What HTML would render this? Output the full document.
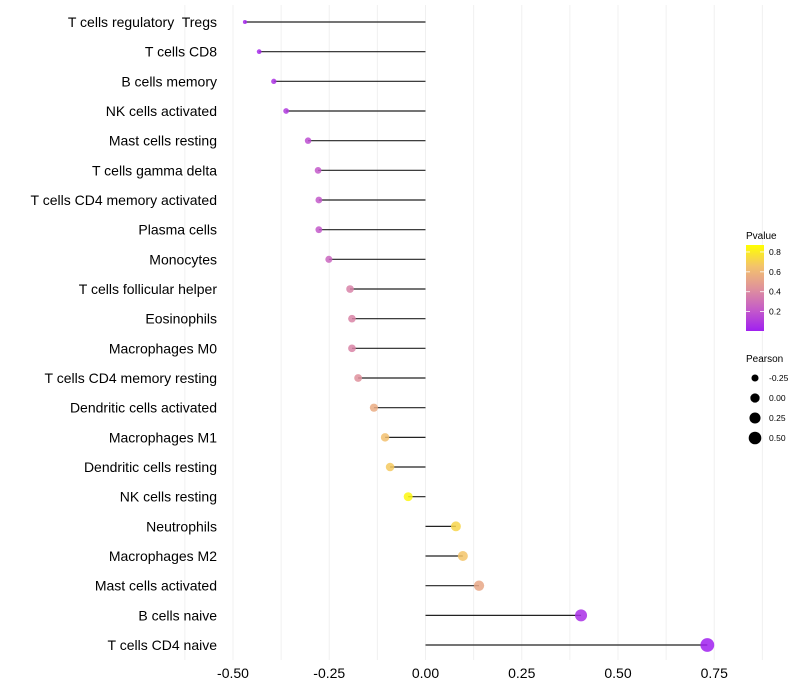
<!DOCTYPE html>
<html><head><meta charset="utf-8"><style>
body{margin:0;background:#fff;}
svg{display:block;font-family:"Liberation Sans",sans-serif;}
text{white-space:pre;}
</style></head><body>
<svg id="chart" width="800" height="700">
<defs><linearGradient id="pg" x1="0" y1="1" x2="0" y2="0">
<stop offset="0" stop-color="#A020F0"/><stop offset="0.25" stop-color="#C55CC8"/><stop offset="0.5" stop-color="#E0939A"/><stop offset="0.75" stop-color="#F3C26C"/><stop offset="1" stop-color="#FFFF00"/></linearGradient></defs>
<g id="grid"></g><g id="marks"></g><g id="labels"></g>
<g>
<text x="746" y="239" font-size="10">Pvalue</text>
<rect x="746" y="245" width="18" height="86" fill="url(#pg)"/>
<g id="cbticks"></g>
</g>
<g id="sizeleg">
<text x="746" y="362" font-size="10">Pearson</text>
</g>
</svg>
<script>
const categories=["T cells regulatory  Tregs","T cells CD8","B cells memory","NK cells activated","Mast cells resting","T cells gamma delta","T cells CD4 memory activated","Plasma cells","Monocytes","T cells follicular helper","Eosinophils","Macrophages M0","T cells CD4 memory resting","Dendritic cells activated","Macrophages M1","Dendritic cells resting","NK cells resting","Neutrophils","Macrophages M2","Mast cells activated","B cells naive","T cells CD4 naive"];
const pearson=[-0.469,-0.432,-0.394,-0.362,-0.305,-0.279,-0.277,-0.277,-0.251,-0.196,-0.191,-0.191,-0.175,-0.134,-0.105,-0.092,-0.045,0.079,0.097,0.139,0.404,0.732];
const pvalue=[0.03,0.04,0.07,0.10,0.17,0.21,0.21,0.21,0.26,0.37,0.38,0.38,0.43,0.55,0.64,0.68,0.84,0.72,0.66,0.53,0.06,0.005];
const xTicks=[-0.5,-0.25,0,0.25,0.5,0.75];
const xTickLabels=["-0.50","-0.25","0.00","0.25","0.50","0.75"];
const pTicks=[0.2,0.4,0.6,0.8];
const sizeTicks=[-0.25,0,0.25,0.5];
const sizeTickLabels=["-0.25","0.00","0.25","0.50"];
const NS="http://www.w3.org/2000/svg";
const x=v=>425.5+v*385;
const y=i=>22+i*29.667;
const r=v=>Math.sqrt(Math.max(1.5,19+34*v))+0.3;
const stops=[[0,[160,32,240]],[0.25,[197,92,200]],[0.5,[224,147,154]],[0.75,[243,194,108]],[1,[255,255,0]]];
function col(p){let t=Math.min(1,Math.max(0,(p-0.005)/0.865));for(let k=0;k<stops.length-1;k++){const a=stops[k],b=stops[k+1];if(t<=b[0]){const f=(t-a[0])/(b[0]-a[0]);const c=a[1].map((v,j)=>Math.round(v+(b[1][j]-v)*f));return `rgb(${c})`;}}return "rgb(255,255,0)";}
function mk(tag,attrs,parent,txt){const e=document.createElementNS(NS,tag);for(const k in attrs)e.setAttribute(k,attrs[k]);if(txt!==undefined)e.textContent=txt;parent.appendChild(e);return e;}
const grid=document.getElementById('grid'),marks=document.getElementById('marks'),labels=document.getElementById('labels');
for(let v=-0.625;v<=0.875;v+=0.125){const g=mk('line',{x1:x(v),x2:x(v),y1:5,y2:660,stroke:'#f0f0f0','stroke-width':1},grid);

}
xTicks.forEach((v,i)=>{const t=mk('text',{x:x(v),y:678,'font-size':14,'text-anchor':'middle',fill:'#000'},labels,xTickLabels[i]);

});
categories.forEach((c,i)=>{
const l=mk('line',{x1:x(0),x2:x(pearson[i]),y1:y(i),y2:y(i),stroke:'#222','stroke-width':1.2},marks);


const d=mk('circle',{cx:x(pearson[i]),cy:y(i),r:r(pearson[i]),fill:col(pvalue[i]),'fill-opacity':0.85},marks);


const t=mk('text',{x:217,y:y(i)+5,'font-size':14,'text-anchor':'end',fill:'#000'},labels,c);

});
const cb=document.getElementById('cbticks');
pTicks.forEach(p=>{const yy=331-(p-0.005)/0.865*86;
mk('line',{x1:746,x2:750,y1:yy,y2:yy,stroke:'#fff','stroke-width':0.8},cb);
mk('line',{x1:760,x2:764,y1:yy,y2:yy,stroke:'#fff','stroke-width':0.8},cb);
const t=mk('text',{x:769,y:yy+3,'font-size':8.5},cb,p.toFixed(1));

});
const sl=document.getElementById('sizeleg');
sizeTicks.forEach((v,i)=>{const yy=378+i*20;
const c=mk('circle',{cx:755,cy:yy,r:r(v),fill:'#000'},sl);


const t=mk('text',{x:769,y:yy+3,'font-size':8.5},sl,sizeTickLabels[i]);

});
</script>
</body></html>
